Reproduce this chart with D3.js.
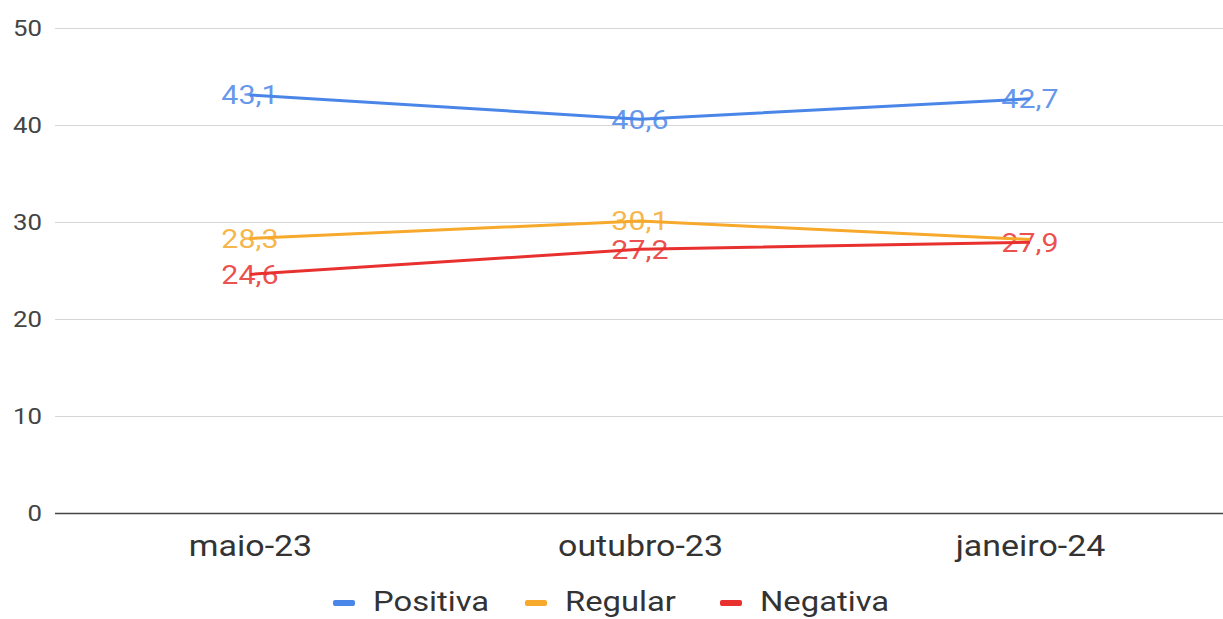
<!DOCTYPE html>
<html>
<head>
<meta charset="utf-8">
<script src="https://cdn.jsdelivr.net/npm/d3@7"></script>
<style>
  html, body { margin: 0; padding: 0; background: #fff; }
  svg { display: block; }
  text { font-family: Roboto, "Liberation Sans", Arial, sans-serif; }
</style>
</head>
<body>
<svg id="chart" width="1223" height="619"></svg>
<script>
// Survey periods and the share of each rating (%)
const categories = ["maio-23", "outubro-23", "janeiro-24"];
const positiva = [43.1, 40.6, 42.7];
const regular  = [28.3, 30.1, 28.2];
const negativa = [24.6, 27.2, 27.9];
const yTicks = [0, 10, 20, 30, 40, 50];

const series = [
  { name: "Positiva", values: positiva, color: "#4a86e8" },
  { name: "Regular",  values: regular,  color: "#f6a92a" },
  { name: "Negativa", values: negativa, color: "#e8312f" }
];

const fmt = v => d3.format(".1f")(v).replace(".", ",");

// Text in this chart is set slightly wide
const WIDEN = 1.17;
function widen(sel) {
  sel.each(function () {
    const len = this.getComputedTextLength();
    d3.select(this)
      .attr("textLength", len * WIDEN)
      .attr("lengthAdjust", "spacingAndGlyphs");
  });
}

const svg = d3.select("#chart");
const W = 1223, H = 619;
const margin = { left: 55, right: -2, top: 28, bottom: 106 };

const x = d3.scalePoint()
  .domain(categories)
  .range([margin.left, W - margin.right])
  .padding(0.5);

const y = d3.scaleLinear()
  .domain([0, 50])
  .range([H - margin.bottom, margin.top]);

// Horizontal gridlines and value axis
const yAxis = d3.axisLeft(y)
  .tickValues(yTicks)
  .tickSize(-(W - margin.right - margin.left))
  .tickPadding(13)
  .tickFormat(d3.format("d"));

const gy = svg.append("g")
  .attr("transform", `translate(${margin.left},0)`)
  .call(yAxis);
gy.select(".domain").remove();
gy.selectAll(".tick line")
  .attr("stroke", d => d === 0 ? "#444" : "#d6d6d6")
  .attr("stroke-width", d => d === 0 ? 1.6 : 1.2);
gy.selectAll(".tick text")
  .attr("fill", "#444")
  .style("font-size", "22px")
  .call(widen);

// Category axis
const gx = svg.append("g")
  .attr("transform", `translate(0,${H - margin.bottom})`)
  .call(d3.axisBottom(x).tickSize(0).tickPadding(22));
gx.select(".domain").remove();
gx.selectAll(".tick text")
  .attr("fill", "#333")
  .style("font-size", "29px")
  .call(widen);

// Data labels, centred on each point; overlapping labels are dropped,
// keeping the series drawn last.
const labelLayer = svg.append("g");
const placed = [];
const labelH = 24;
[...series].reverse().forEach(s => {
  s.values.forEach((v, i) => {
    const cx = x(categories[i]);
    const cy = y(v);
    const txt = fmt(v);
    const w = txt.length * 14;
    const box = { x0: cx - w / 2, x1: cx + w / 2, y0: cy - labelH / 2, y1: cy + labelH / 2 };
    const hit = placed.some(b => b.x0 < box.x1 && box.x0 < b.x1 && b.y0 < box.y1 && box.y0 < b.y1);
    if (hit) return;
    placed.push(box);
    labelLayer.append("text")
      .attr("x", cx)
      .attr("y", cy)
      .attr("dy", "0.36em")
      .attr("text-anchor", "middle")
      .attr("fill", s.color)
      .attr("fill-opacity", 0.85)
      .style("font-size", "26px")
      .text(txt)
      .call(widen);
  });
});

// Series lines, drawn over the labels
const line = d3.line()
  .x((d, i) => x(categories[i]))
  .y(d => y(d));

svg.append("g")
  .selectAll("path")
  .data(series)
  .join("path")
  .attr("d", d => line(d.values))
  .attr("fill", "none")
  .attr("stroke", d => d.color)
  .attr("stroke-width", 3)
  .attr("stroke-linejoin", "round");

// Legend
const legendItems = [
  { s: series[0], x: 333 },
  { s: series[1], x: 525 },
  { s: series[2], x: 720 }
];
const lg = svg.append("g");
legendItems.forEach(item => {
  lg.append("rect")
    .attr("x", item.x)
    .attr("y", 600)
    .attr("width", 22)
    .attr("height", 6)
    .attr("rx", 2)
    .attr("fill", item.s.color);
  lg.append("text")
    .attr("x", item.x + 40)
    .attr("y", 611)
    .attr("fill", "#333")
    .style("font-size", "28px")
    .text(item.s.name)
    .call(widen);
});
</script>
</body>
</html>
